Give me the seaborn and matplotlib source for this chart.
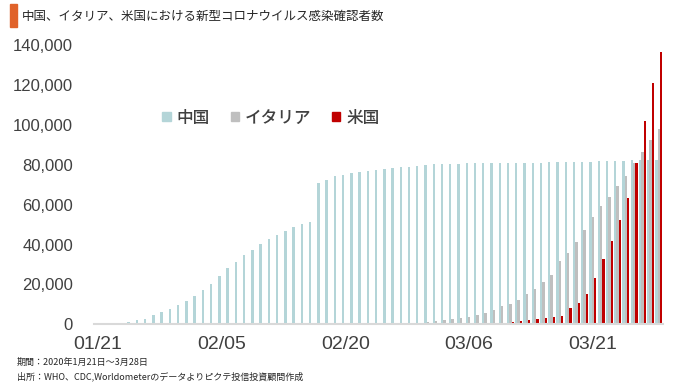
import matplotlib
matplotlib.use('Agg')
import matplotlib.pyplot as plt
import matplotlib.patches as mpatches
from matplotlib import font_manager
from matplotlib.ticker import FuncFormatter
import seaborn as sns
import pandas as pd

# Data: cumulative confirmed cases, 2020-01-21 .. 2020-03-29
dates = pd.date_range('2020-01-21', '2020-03-29').strftime('%m/%d').tolist()

china = [278, 309, 571, 830, 1297, 1985, 2741, 4537, 5997, 7736,
         9720, 11821, 14411, 17238, 20471, 24363, 28060, 31211, 34598, 37251,
         40235, 42708, 44730, 46550, 48548, 50054, 51174, 70635, 72528, 74280,
         74675, 75569, 76392, 77042, 77262, 77780, 78191, 78630, 78961, 79394,
         79968, 80174, 80304, 80422, 80565, 80711, 80813, 80859, 80904, 80924,
         80955, 80981, 80991, 81021, 81048, 81077, 81116, 81174, 81300, 81416,
         81498, 81601, 81747, 81846, 81961, 82078, 82230, 82341, 82447]

italy = [0, 0, 0, 0, 0, 0, 0, 0, 0, 0,
         2, 2, 2, 2, 2, 2, 2, 3, 3, 3,
         3, 3, 3, 3, 3, 3, 3, 3, 3, 3,
         3, 3, 20, 79, 157, 229, 322, 400, 650, 888,
         1128, 1694, 2036, 2502, 3089, 3858, 4636, 5883, 7375, 9172,
         10149, 12462, 15113, 17660, 21157, 24747, 31506, 35713, 41035, 47021,
         53578, 59138, 63927, 69176, 74386, 80589, 86498, 92472, 97689]

us = [1, 1, 1, 2, 2, 5, 5, 5, 5, 6,
      7, 8, 11, 11, 11, 12, 12, 12, 12, 12,
      13, 13, 14, 14, 15, 15, 15, 15, 15, 15,
      15, 35, 35, 35, 53, 53, 59, 60, 62, 70,
      75, 100, 124, 158, 221, 319, 435, 500, 700, 950,
      1250, 1650, 2150, 2700, 3400, 3700, 4400, 8000, 10500, 15400,
      23000, 32600, 42000, 52200, 63300, 80800, 101900, 121100, 136600]

countries = ['中国', 'イタリア', '米国']
colors = {'中国': '#B4D5D8', 'イタリア': '#BFBFBF', '米国': '#C00000'}
tick_labels = ['01/21', '02/05', '02/20', '03/06', '03/21']

df = pd.DataFrame({'date': dates, '中国': china, 'イタリア': italy, '米国': us})
long_df = df.melt(id_vars='date', var_name='country', value_name='cases')

sns.set_theme(style='white')
names = {f.name for f in font_manager.fontManager.ttflist}
num_font = 'Liberation Sans Narrow' if 'Liberation Sans Narrow' in names else 'Liberation Sans'
cjk = 'Noto Sans CJK JP'
plt.rcParams['font.family'] = [num_font, cjk, 'DejaVu Sans']

fig = plt.figure(figsize=(6.8, 3.83), dpi=100)
ax = fig.add_axes([0.138, 0.153, 0.837, 0.73])

sns.barplot(data=long_df, x='date', y='cases', hue='country', hue_order=countries,
            palette=colors, width=0.85, linewidth=0, saturation=1, ax=ax, legend=False)

ax.set_xlim(-0.5, len(dates) - 0.5)
ax.set_ylim(0, 140000)
ax.set_yticks(range(0, 140001, 20000))
ax.yaxis.set_major_formatter(FuncFormatter(lambda v, p: f'{int(v):,}'))
ax.set_xticks([dates.index(t) for t in tick_labels])
ax.set_xticklabels(tick_labels)
ax.tick_params(axis='y', length=0, pad=15, labelsize=12, labelcolor='#404040')
ax.tick_params(axis='x', length=0, pad=8, labelsize=14, labelcolor='#404040')
ax.set_xlabel('')
ax.set_ylabel('')
for s in ['top', 'right', 'left']:
    ax.spines[s].set_visible(False)
ax.spines['bottom'].set_color('#D9D9D9')
ax.spines['bottom'].set_linewidth(1.5)
ax.grid(False)

handles = [mpatches.Patch(color=colors[c], label=c) for c in countries]
leg = ax.legend(handles=handles, loc='center', bbox_to_anchor=(0.311, 0.74), ncol=3,
                frameon=False, handlelength=0.5, handleheight=0.5, handletextpad=0.35,
                columnspacing=1.25, prop={'family': cjk, 'size': 12, 'weight': 'medium'})
for t in leg.get_texts():
    t.set_color('#404040')

# title with orange marker
fig.patches.append(mpatches.Rectangle((10 / 680, 1 - 27 / 383), 6.5 / 680, 23 / 383,
                                      transform=fig.transFigure, color='#E0622A'))
fig.text(22 / 680, 1 - 16 / 383, '中国、イタリア、米国における新型コロナウイルス感染確認者数',
         family=cjk, fontsize=9, color='#262626', va='center', ha='left')

fig.text(17 / 680, 1 - 362 / 383, '期間：2020年1月21日～3月28日',
         family=cjk, fontsize=6.5, color='#262626', va='center', ha='left')
fig.text(17 / 680, 1 - 376 / 383, '出所：WHO、CDC,Worldometerのデータよりピクテ投信投資顧問作成',
         family=cjk, fontsize=6.5, color='#262626', va='center', ha='left')

fig.savefig('out.png', dpi=100)
